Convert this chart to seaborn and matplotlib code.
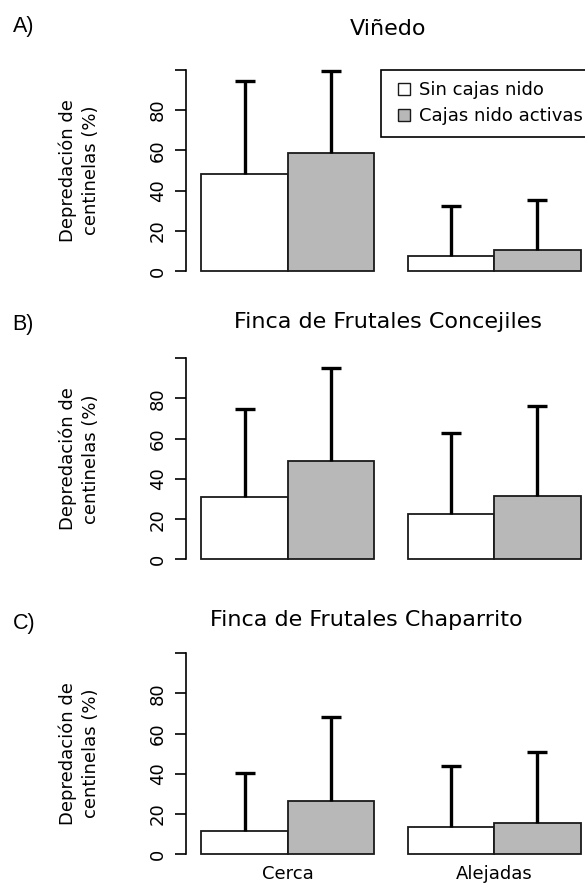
import matplotlib
matplotlib.use("Agg")
import matplotlib.pyplot as plt
from matplotlib.lines import Line2D
import seaborn as sns
import pandas as pd
import numpy as np

# ---- data ----
distances = ["Cerca", "Alejadas"]
treatments = ["Sin cajas nido", "Cajas nido activas"]
panel_titles = ["Viñedo", "Finca de Frutales Concejiles", "Finca de Frutales Chaparrito"]
panel_letters = ["A)", "B)", "C)"]

# mean predation (%) per distance
vinedo_sin = [48.3, 7.6]
vinedo_con = [58.7, 10.4]
concejiles_sin = [31.0, 22.7]
concejiles_con = [48.7, 31.6]
chaparrito_sin = [11.8, 13.4]
chaparrito_con = [26.6, 15.8]

# upper end of the error bars (%)
vinedo_sin_up = [94.4, 32.5]
vinedo_con_up = [99.6, 35.3]
concejiles_sin_up = [74.6, 62.6]
concejiles_con_up = [94.9, 76.2]
chaparrito_sin_up = [40.5, 43.9]
chaparrito_con_up = [68.3, 50.8]

y_ticks = [0, 20, 40, 60, 80, 100]
y_tick_labels = ["0", "20", "40", "60", "80", ""]

# ---- layout ----
FIG_W, FIG_H = 585, 884
AX_LEFT, AX_WIDTH, AX_HEIGHT = 0.3188, 0.699, 0.2459
AX_BOTTOMS = [0.6843, 0.3581, 0.0244]
TITLE_PADS = [19.4, 16.0, 13.4]
TITLE_X = [0.493, 0.493, 0.44]
LETTER_BASELINES = [32.3, 330.0, 629.3]  # pixels from top

WHITE = "#ffffff"
GREY = "#b8b8b8"
EDGE = "#1a1a1a"


def set_style():
    sns.set_style("white")
    plt.rcParams["font.family"] = ["DejaVu Sans"]
    plt.rcParams["text.color"] = "black"
    plt.rcParams["axes.labelcolor"] = "black"
    plt.rcParams["xtick.color"] = "black"
    plt.rcParams["ytick.color"] = "black"


def draw_panel(ax, sin_vals, con_vals, sin_up, con_up, title, title_pad, title_x, show_x):
    df = pd.DataFrame({
        "distancia": distances + distances,
        "tratamiento": [treatments[0]] * len(distances) + [treatments[1]] * len(distances),
        "valor": sin_vals + con_vals,
    })
    sns.barplot(
        data=df, x="distancia", y="valor", hue="tratamiento",
        order=distances, hue_order=treatments,
        palette=[WHITE, GREY], saturation=1, width=0.836,
        errorbar=None, edgecolor=EDGE, linewidth=1.3,
        legend=False, ax=ax,
    )

    # one-sided error bars from the top of each bar
    bars = list(ax.containers)
    for container, upper in zip(bars, [sin_up, con_up]):
        xs = np.array([p.get_x() + p.get_width() / 2 for p in container])
        hs = np.array([p.get_height() for p in container])
        err = np.array(upper) - hs
        _, caps, _ = ax.errorbar(
            xs, hs, yerr=[np.zeros_like(err), err], fmt="none",
            ecolor="black", elinewidth=2.4, capsize=7.4, capthick=2.4, zorder=3,
        )
        caps[0].set_visible(False)

    ax.set_xlim(-0.49, 1.49)
    ax.set_ylim(-4, 104)
    ax.set_yticks(y_ticks)
    ax.set_yticklabels(y_tick_labels)
    plt.setp(ax.get_yticklabels(), rotation=90, va="center")

    sns.despine(ax=ax, bottom=True)
    ax.spines["left"].set_bounds(0, 100)
    ax.spines["left"].set_linewidth(1.2)
    ax.spines["left"].set_color("black")

    ax.tick_params(axis="y", length=7.7, width=1.2, pad=6.5, labelsize=13, left=True)
    ax.tick_params(axis="x", length=0, pad=2, labelsize=13, labelbottom=show_x)
    ax.set_xlabel("")
    ax.set_ylabel("Depredación de\ncentinelas (%)", fontsize=13, labelpad=35, linespacing=1.4)
    ax.set_title(title, fontsize=16, pad=title_pad, x=title_x)


set_style()
fig = plt.figure(figsize=(FIG_W / 100, FIG_H / 100), dpi=100)

panels = [
    (vinedo_sin, vinedo_con, vinedo_sin_up, vinedo_con_up),
    (concejiles_sin, concejiles_con, concejiles_sin_up, concejiles_con_up),
    (chaparrito_sin, chaparrito_con, chaparrito_sin_up, chaparrito_con_up),
]

axes = []
for i, (s, c, su, cu) in enumerate(panels):
    ax = fig.add_axes([AX_LEFT, AX_BOTTOMS[i], AX_WIDTH, AX_HEIGHT])
    draw_panel(ax, s, c, su, cu, panel_titles[i], TITLE_PADS[i], TITLE_X[i], show_x=(i == 2))
    axes.append(ax)
    fig.text(12.7 / FIG_W, 1 - LETTER_BASELINES[i] / FIG_H, panel_letters[i],
             fontsize=15.5, family=["Liberation Sans", "DejaVu Sans"], va="baseline")

# legend only on the first panel
handles = [
    Line2D([], [], linestyle="none", marker="s", markersize=8,
           markerfacecolor=col, markeredgecolor=EDGE, markeredgewidth=1.0)
    for col in [WHITE, GREY]
]
leg = axes[0].legend(
    handles, treatments, loc="upper left", bbox_to_anchor=(0.476, 0.963),
    borderaxespad=0, fontsize=13, frameon=True, fancybox=False, framealpha=1,
    borderpad=0.65, handlelength=1.19, handletextpad=0.23, labelspacing=0.42,
)
leg.get_frame().set_edgecolor("black")
leg.get_frame().set_linewidth(1.2)

fig.savefig("out.png", dpi=100)
